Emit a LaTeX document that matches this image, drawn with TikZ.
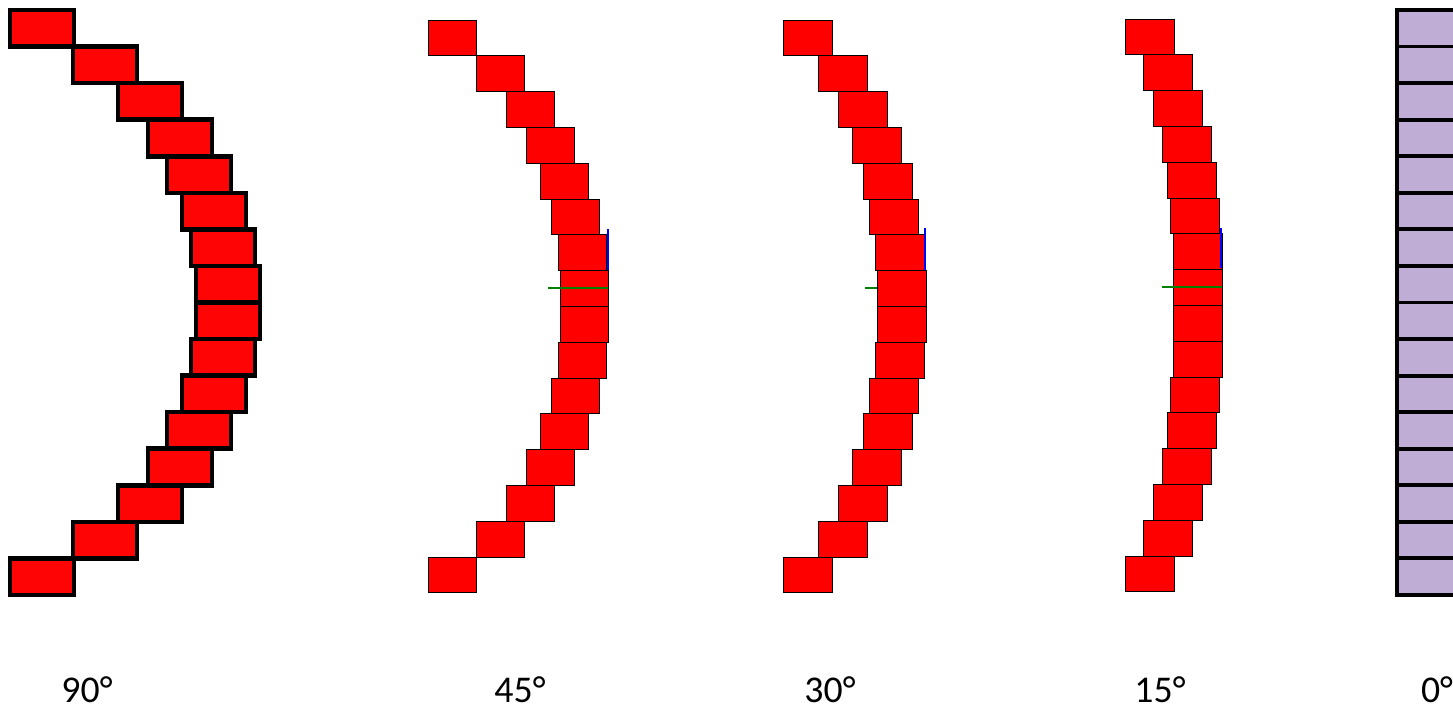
\documentclass[tikz,border=0pt]{standalone}
\usepackage{fontspec}
\setmainfont{Carlito}
\usepackage{tikz}
\usetikzlibrary{positioning}
\definecolor{lavblock}{RGB}{191,173,213}
\definecolor{redblock}{RGB}{255,4,4}
\tikzset{
  thickblock/.style={draw=black,line width=2.6pt,fill=redblock},
  thinblock/.style={draw=black,line width=0.5pt,fill=red},
  flatblock/.style={draw=black,line width=2.2pt,fill=lavblock},
  normline/.style={blue,line width=1.3pt},
  tanline/.style={green!50!black,line width=1.1pt},
  anglelabel/.style={anchor=base,inner sep=0pt,font=\fontsize{21.5}{26}\selectfont}
}

\begin{document}
\begin{tikzpicture}[x=0.02cm,y=-0.02cm]
  \useasboundingbox (0,0) rectangle (1453,707);

  % 90 degree arc: wide blocks, heavy outline.
  \foreach \xl [count=\k from 0] in {10,73,118,148,167,182,191,196,196,191,182,167,148,118,73,10}
    \filldraw[thickblock] (\xl,{10+36.56*\k}) rectangle ++(64,36.56);

  % 45 degree arc.
  \foreach \xl [count=\k from 0] in {428,476,506,526,540,551,558,560,560,558,551,540,526,506,476,428}
    \filldraw[thinblock] (\xl,{20+35.8*\k}) rectangle ++(48,35.8);
  \draw[normline] (608,229) -- (608,270);
  \draw[tanline] (548,288) -- (608,288);

  % 30 degree arc.
  \foreach \xl [count=\k from 0] in {783,818,838,852,863,869,875,877,877,875,869,863,852,838,818,783}
    \filldraw[thinblock] (\xl,{20+35.8*\k}) rectangle ++(49,35.8);
  \draw[normline] (925,228) -- (925,270);
  \draw[tanline] (865,288) -- (877,288);

  % 15 degree arc.
  \foreach \xl [count=\k from 0] in {1125,1143,1153,1162,1167,1170,1173,1173,1173,1173,1170,1167,1162,1153,1143,1125}
    \filldraw[thinblock] (\xl,{19+35.8*\k}) rectangle ++(49,35.8);
  \draw[normline] (1221,228) -- (1221,268);
  \draw[tanline] (1162,287) -- (1222,287);

  % 0 degree: straight column, cut at the right edge.
  \foreach \k in {0,...,15}
    \filldraw[flatblock] (1397,{10+36.56*\k}) rectangle ++(70,36.56);

  % Angle labels.
  \node[anglelabel] (lab90) at (87,702) {90°};
  \node[anglelabel] (lab45) at (520,702) {45°};
  \node[anglelabel] (lab30) at (830,702) {30°};
  \node[anglelabel] (lab15) at (1160,702) {15°};
  \node[anglelabel] (lab0) at (1437,702) {0°};
\end{tikzpicture}
\end{document}
